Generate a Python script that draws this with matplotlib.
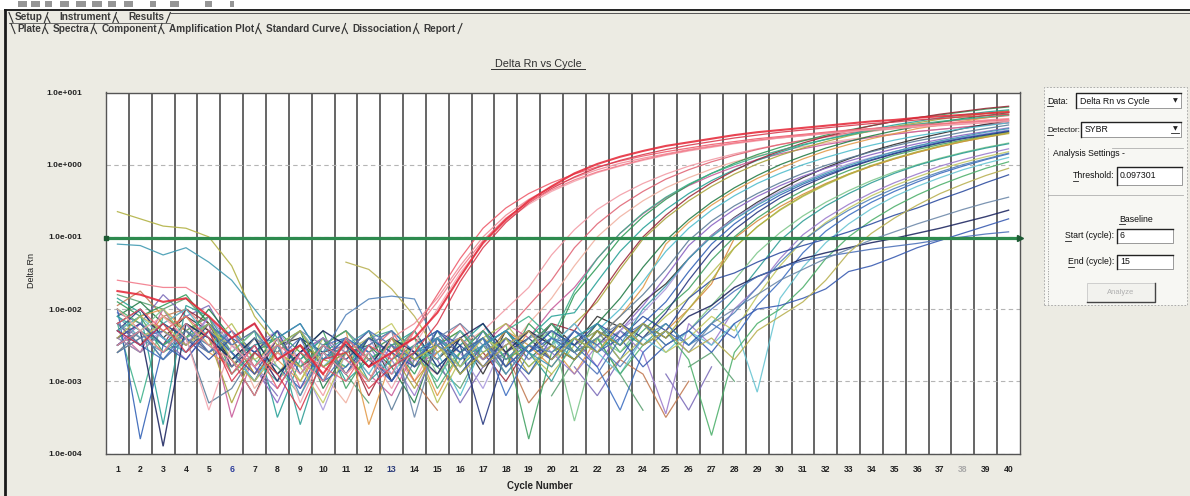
import numpy as np
import matplotlib
matplotlib.use('Agg')
import matplotlib.pyplot as plt
from matplotlib.lines import Line2D
from matplotlib.patches import Rectangle

plt.rcParams['font.family'] = ['Liberation Sans', 'DejaVu Sans']

nan = float('nan')
cycles = list(range(1, 41))
threshold = 0.097301
y_ticks = [1e-4, 1e-3, 1e-2, 1e-1, 1e0, 1e1]
y_tick_labels = ['1.0e-004', '1.0e-003', '1.0e-002', '1.0e-001', '1.0e+000', '1.0e+001']
x_tick_labels = [str(c) for c in cycles]
tabs_row1 = ['Setup', 'Instrument', 'Results']
tabs_row2 = ['Plate', 'Spectra', 'Component', 'Amplification Plot',
             'Standard Curve', 'Dissociation', 'Report']

# log10(Delta Rn) per well, cycles 1..40
red_1 = [-1.75, -1.8, -1.9, -1.85, -2.1, -2.4, -2.2, -2.7, -2.5, -2.9,
         -2.45, -2.8, -2.6, -2.4, -2.05, -1.55, -1.08, -0.76, -0.5, -0.3,
         -0.12, 0.01, 0.11, 0.19, 0.26, 0.31, 0.36, 0.41, 0.45, 0.48,
         0.51, 0.54, 0.57, 0.6, 0.62, 0.65, 0.67, 0.69, 0.71, 0.73]
red_2 = [-2.2, -2.0, -2.3, -2.1, -2.4, -2.9, -2.5, -3.1, -2.6, -2.8,
         -3.0, -2.5, -2.7, -2.3, -1.8, -1.3, -0.88, -0.6, -0.4, -0.25,
         -0.13, -0.03, 0.05, 0.12, 0.18, 0.23, 0.28, 0.32, 0.36, 0.39,
         0.42, 0.45, 0.48, 0.5, 0.52, 0.54, 0.56, 0.58, 0.6, 0.62]
red_3 = [-2.5, -2.3, -2.6, -2.2, -2.5, -2.7, -3.2, -2.6, -2.9, -2.5,
         -2.7, -3.0, -2.4, -2.2, -1.85, -1.4, -1.0, -0.7, -0.48, -0.31,
         -0.18, -0.07, 0.02, 0.09, 0.15, 0.21, 0.26, 0.3, 0.34, 0.37,
         0.4, 0.43, 0.46, 0.48, 0.5, 0.52, 0.54, 0.56, 0.58, 0.6]
red_4 = [-2.0, -2.3, -2.1, -2.4, -3.4, -2.5, -2.8, -2.4, -3.3, -2.6,
         -2.9, -2.6, -3.1, -2.5, -2.0, -1.5, -1.1, -0.78, -0.55, -0.37,
         -0.23, -0.11, -0.02, 0.06, 0.13, 0.19, 0.24, 0.29, 0.33, 0.37,
         0.4, 0.43, 0.46, 0.49, 0.51, 0.53, 0.55, 0.57, 0.59, 0.61]
red_5 = [-2.3, -2.5, -2.2, -2.6, -2.3, -3.0, -2.6, -2.9, -3.4, -2.7,
         -2.6, -3.1, -2.8, -2.6, -2.2, -1.62, -1.15, -0.8, -0.53, -0.33,
         -0.17, -0.04, 0.06, 0.14, 0.21, 0.27, 0.32, 0.37, 0.41, 0.45,
         0.48, 0.51, 0.54, 0.57, 0.59, 0.62, 0.64, 0.66, 0.68, 0.7]
red_6 = [-1.6, -1.65, -1.7, -1.7, -1.9, -2.3, -2.8, -2.5, -2.7, -3.0,
         -2.4, -2.7, -2.9, -2.3, -1.9, -1.45, -1.05, -0.74, -0.52, -0.35,
         -0.21, -0.1, -0.01, 0.07, 0.14, 0.2, 0.25, 0.3, 0.34, 0.38,
         0.41, 0.44, 0.47, 0.5, 0.52, 0.55, 0.57, 0.59, 0.61, 0.63]
pink_1 = [-2.1, -2.4, -2.2, -2.0, -2.3, -2.6, -2.9, -2.4, -2.7, -3.2,
          -2.5, -2.8, -2.6, -3.0, -2.4, -2.6, -2.3, -2.0, -1.7, -1.25,
          -0.9, -0.62, -0.42, -0.26, -0.13, -0.02, 0.07, 0.15, 0.22, 0.28,
          0.33, 0.38, 0.42, 0.46, 0.5, 0.53, 0.56, 0.59, 0.62, 0.64]
pink_2 = [-2.4, -2.2, -2.5, -2.3, -2.1, -2.8, -2.5, -3.0, -2.6, -2.4,
          -2.9, -2.6, -2.3, -2.8, -2.5, -2.2, -2.7, -2.3, -1.95, -1.6,
          -1.15, -0.82, -0.57, -0.37, -0.2, -0.07, 0.04, 0.13, 0.21, 0.28,
          0.34, 0.39, 0.44, 0.48, 0.52, 0.56, 0.59, 0.62, 0.65, 0.68]
pink_3 = [-2.6, -2.3, -2.1, -2.4, -2.6, -2.4, -3.1, -2.7, -2.5, -2.9,
          -3.3, -2.6, -2.4, -2.7, -2.9, -2.5, -2.3, -2.6, -2.2, -1.85,
          -1.4, -1.0, -0.72, -0.5, -0.32, -0.18, -0.06, 0.04, 0.12, 0.19,
          0.25, 0.3, 0.35, 0.39, 0.43, 0.46, 0.49, 0.52, 0.55, 0.58]
pink_4 = [-2.3, -2.6, -2.0, -2.5, -2.2, -3.5, -2.6, -2.3, -3.1, -2.7,
          -2.5, -2.9, -3.2, -2.6, -2.4, -2.9, -2.5, -2.2, -2.4, -2.0,
          -1.7, -1.3, -0.95, -0.68, -0.46, -0.29, -0.15, -0.03, 0.07, 0.15,
          0.22, 0.28, 0.33, 0.38, 0.42, 0.46, 0.49, 0.52, 0.55, 0.58]
green_1 = [-1.9, -2.1, -1.95, -1.8, -2.2, -2.5, -2.8, -2.3, -2.6, -3.0,
           -2.4, -2.7, -2.5, -2.9, -2.3, -2.6, -2.4, -2.8, -2.2, -2.5,
           -1.8, -1.42, -1.02, -0.72, -0.48, -0.28, -0.12, 0.02, 0.14, 0.24,
           0.33, 0.41, 0.48, 0.54, 0.6, 0.65, 0.69, 0.73, 0.77, 0.8]
black_1 = [-2.2, -2.0, -2.4, -2.1, -2.3, -2.7, -3.2, -2.5, -2.4, -2.8,
           -2.6, -2.3, -3.0, -2.5, -2.7, -2.4, -2.9, -2.3, -2.6, -2.2,
           -2.5, -2.1, -2.25, -1.9, -1.65, -1.3, -0.98, -0.73, -0.52, -0.34,
           -0.18, -0.04, 0.08, 0.19, 0.28, 0.36, 0.43, 0.5, 0.56, 0.61]
olive_1 = [-2.0, -2.3, -2.6, -2.2, -2.4, -3.3, -2.6, -2.9, -2.5, -2.7,
           -2.8, -2.4, -2.6, -3.1, -2.5, -2.3, -2.7, -2.4, -2.9, -2.5,
           -2.2, -1.9, -1.45, -1.03, -0.74, -0.5, -0.3, -0.13, 0.01, 0.13,
           0.23, 0.32, 0.4, 0.47, 0.53, 0.58, 0.63, 0.67, 0.71, 0.75]
teal_1 = [-1.85, -2.05, -3.6, -1.95, -2.1, -2.6, -2.3, -3.5, -2.7, -2.4,
          -3.0, -2.7, -2.5, -2.3, -2.8, -2.5, -2.2, -2.7, -2.4, -2.1,
          -2.05, -1.62, -1.2, -0.88, -0.62, -0.4, -0.22, -0.07, 0.06, 0.17,
          0.27, 0.35, 0.42, 0.49, 0.55, 0.6, 0.65, 0.69, 0.73, 0.76]
dkgreen_1 = [-2.1, -1.9, -2.2, -2.4, -2.0, -2.4, -2.9, -2.6, -2.3, -3.1,
             -2.6, -2.5, -2.8, -3.3, -2.4, -2.9, -2.5, -2.3, -2.7, -2.4,
             -2.6, -2.2, -1.85, -1.42, -1.05, -0.76, -0.52, -0.32, -0.15, 0.0,
             0.12, 0.23, 0.32, 0.4, 0.47, 0.53, 0.59, 0.64, 0.68, 0.72]
orange_1 = [-2.3, -2.1, -2.0, -2.3, -2.6, -2.8, -2.4, -2.7, -3.0, -2.5,
            -2.3, -3.6, -2.7, -2.5, -3.2, -2.6, -2.4, -2.8, -2.3, -2.5,
            -2.9, -2.4, -2.1, -1.7, -1.1, -0.8, -0.56, -0.36, -0.19, -0.05,
            0.08, 0.19, 0.28, 0.36, 0.43, 0.5, 0.55, 0.6, 0.65, 0.69]
maroon_1 = [-2.4, -2.2, -2.5, -2.0, -2.2, -2.6, -3.0, -2.4, -2.8, -2.6,
            -2.5, -3.2, -2.6, -2.4, -2.7, -2.3, -2.6, -3.0, -2.5, -2.2,
            -2.3, -1.85, -1.4, -1.0, -0.7, -0.45, -0.25, -0.08, 0.07, 0.19,
            0.3, 0.39, 0.47, 0.54, 0.6, 0.65, 0.7, 0.74, 0.78, 0.81]
tealgreen_1 = [-2.2, -3.3, -2.1, -2.3, -2.5, -2.3, -2.7, -3.0, -2.4, -2.6,
               -2.8, -2.4, -2.3, -2.6, -3.0, -2.4, -2.7, -2.3, -2.1, -2.4,
               -1.75, -1.3, -0.95, -0.67, -0.45, -0.27, -0.12, 0.0, 0.11, 0.2,
               0.28, 0.35, 0.41, 0.47, 0.52, 0.56, 0.6, 0.63, 0.66, 0.69]
purple_1 = [-2.5, -2.2, -2.4, -2.7, -2.3, -2.5, -2.8, -3.3, -2.6, -2.4,
            -2.7, -3.0, -2.5, -2.8, -2.6, -2.4, -2.8, -2.5, -2.3, -2.7,
            -2.4, -2.8, -2.3, -1.95, -1.55, -1.12, -0.84, -0.62, -0.44, -0.29,
            -0.16, -0.05, 0.05, 0.14, 0.22, 0.29, 0.35, 0.41, 0.46, 0.51]
lavender_1 = [-2.2, -2.5, -2.3, -2.6, -2.1, -2.9, -2.5, -2.3, -2.7, -3.4,
              -2.6, -2.4, -2.9, -2.7, -2.3, -2.6, -3.1, -2.4, -2.7, -2.5,
              -2.2, -2.6, -2.3, -2.05, -1.72, -1.3, -0.98, -0.74, -0.54, -0.37,
              -0.23, -0.1, 0.01, 0.1, 0.18, 0.26, 0.32, 0.38, 0.43, 0.48]
blue_1 = [-2.0, -3.8, -2.5, -2.2, -2.6, -2.3, -2.6, -2.8, -3.1, -2.5,
          -2.4, -2.7, -3.0, -2.6, -2.5, -2.8, -2.3, -2.6, -2.9, -2.4,
          -2.5, -2.3, -2.7, -2.2, -1.9, -1.48, -1.1, -0.82, -0.6, -0.42,
          -0.27, -0.14, -0.03, 0.07, 0.16, 0.24, 0.31, 0.37, 0.42, 0.47]
cyan_1 = [-2.1, -2.4, -2.2, -2.0, -2.4, -2.6, -3.0, -2.5, -2.3, -2.8,
          -2.5, -2.9, -2.4, -2.7, -2.6, -3.2, -2.5, -2.3, -2.6, -2.4,
          -2.7, -2.3, -2.0, -1.62, -1.2, -0.88, -0.63, -0.43, -0.26, -0.12,
          0.0, 0.1, 0.19, 0.27, 0.34, 0.4, 0.45, 0.5, 0.54, 0.58]
green_2 = [-2.3, -2.1, -2.6, -2.4, -2.2, -2.7, -2.4, -2.9, -2.6, -2.3,
           -3.1, -2.6, -2.4, -2.8, -2.5, -2.3, -2.7, -2.5, -3.8, -2.6,
           -2.4, -2.2, -2.6, -2.3, -2.0, -1.72, -1.32, -1.0, -0.74, -0.53,
           -0.36, -0.21, -0.08, 0.03, 0.13, 0.21, 0.28, 0.34, 0.4, 0.45]
ygreen_1 = [-2.4, -2.6, -2.3, -2.1, -2.5, -2.2, -2.7, -2.5, -3.0, -2.4,
            -2.6, -2.3, -2.8, -2.5, -3.3, -2.7, -2.4, -2.2, -2.6, -2.9,
            -2.5, -2.3, -2.7, -2.4, -2.1, -1.85, -1.5, -1.15, -0.86, -0.63,
            -0.44, -0.28, -0.14, -0.02, 0.08, 0.17, 0.25, 0.32, 0.38, 0.43]
slate_1 = [-2.6, -2.3, -2.7, -2.4, -3.3, -3.1, -2.6, -2.4, -2.8, -2.5,
           -2.3, -2.6, -3.4, -2.7, -2.4, -2.6, -2.3, -2.8, -2.5, -2.2,
           -2.6, -2.4, -2.1, -1.8, -1.45, -1.05, -0.78, -0.57, -0.4, -0.25,
           -0.12, -0.01, 0.09, 0.18, 0.26, 0.33, 0.39, 0.45, 0.5, 0.55]
orange_2 = [-2.2, -2.5, -2.1, -2.3, -2.6, -2.4, -2.9, -2.6, -2.3, -2.7,
            -2.5, -2.8, -2.4, -3.0, -2.6, -2.4, -2.7, -2.3, -2.5, -2.8,
            -2.4, -2.6, -2.2, -2.5, -2.3, -2.0, -1.65, -1.02, -0.78, -0.58,
            -0.41, -0.26, -0.13, -0.02, 0.08, 0.17, 0.25, 0.32, 0.38, 0.44]
navy_1 = [-2.3, -2.0, -2.4, -2.6, -2.2, -2.8, -2.5, -3.0, -2.4, -2.6,
          -2.9, -2.4, -2.6, -2.3, -2.8, -2.5, -3.6, -2.6, -2.4, -2.7,
          -2.3, -2.5, -2.2, -2.4, -2.05, -1.6, -1.2, -0.9, -0.66, -0.46,
          -0.3, -0.16, -0.04, 0.06, 0.15, 0.23, 0.3, 0.36, 0.41, 0.46]
ltgreen_1 = [-2.5, -2.3, -2.0, -2.4, -2.2, -2.6, -2.3, -2.8, -3.2, -2.5,
             -2.7, -2.4, -2.6, -2.3, -2.9, -2.6, -2.4, -2.9, -2.5, -2.3,
             -3.55, -2.4, -2.6, -2.2, -2.5, -2.3, -1.95, -1.6, -1.22, -0.94,
             -0.71, -0.52, -0.36, -0.22, -0.1, 0.0, 0.09, 0.17, 0.24, 0.3]
teal_2 = [-2.1, -2.3, -2.5, -2.2, -2.4, -2.7, -2.5, -2.4, -3.6, -2.6,
          -2.4, -3.0, -2.7, -2.5, -2.3, -2.8, -2.5, -2.3, -2.6, -3.0,
          -2.4, -2.6, -2.3, -2.5, -2.2, -2.5, -2.2, -1.85, -1.45, -1.05,
          -0.78, -0.57, -0.4, -0.25, -0.12, -0.01, 0.08, 0.16, 0.23, 0.29]
purple_2 = [-2.4, -2.6, -2.3, -2.5, -2.1, -2.5, -2.8, -3.1, -2.6, -2.4,
            -2.6, -2.3, -2.7, -3.2, -2.5, -2.4, -2.7, -2.5, -2.3, -2.6,
            -2.9, -2.5, -2.3, -2.6, -3.45, -2.2, -2.5, -2.0, -1.7, -1.3,
            -0.97, -0.74, -0.55, -0.39, -0.25, -0.13, -0.02, 0.07, 0.15, 0.22]
blue_2 = [-2.2, -2.5, -2.7, -2.3, -2.6, -2.4, -2.2, -2.7, -2.5, -3.0,
          -2.8, -2.5, -2.3, -2.6, -2.4, -2.7, -2.4, -3.2, -2.6, -2.3,
          -2.5, -2.8, -3.4, -2.6, -2.3, -2.5, -2.2, -2.4, -1.95, -1.62,
          -1.22, -0.92, -0.7, -0.52, -0.37, -0.24, -0.12, -0.02, 0.07, 0.15]
cyan_2 = [-2.3, -2.1, -2.4, -2.6, -2.3, -2.6, -3.0, -2.5, -2.3, -2.7,
          -2.4, -2.6, -2.9, -2.5, -2.7, -2.3, -2.6, -2.4, -2.8, -2.5,
          -2.2, -2.6, -2.9, -2.4, -2.6, -2.3, -2.5, -2.2, -3.15, -1.85,
          -1.42, -1.08, -0.82, -0.61, -0.44, -0.3, -0.18, -0.07, 0.02, 0.1]
green_3 = [-2.0, -2.2, -2.5, -2.3, -2.1, -2.9, -2.6, -2.4, -2.8, -2.5,
           -2.3, -2.7, -2.5, -2.4, -3.1, -2.6, -2.3, -2.7, -2.5, -2.2,
           -2.6, -2.4, -2.9, -2.5, -2.3, -2.7, -3.75, -2.6, -2.2, -2.0,
           -1.7, -1.3, -1.0, -0.77, -0.58, -0.42, -0.28, -0.16, -0.05, 0.04]
ygreen_2 = [-2.6, -2.4, -2.2, -2.5, -2.3, -2.5, -2.3, -2.6, -2.8, -3.3,
            -2.6, -2.4, -2.2, -2.7, -2.5, -2.8, -2.4, -2.6, -2.3, -2.5,
            -2.7, -2.3, -2.5, -2.2, -2.6, -2.4, -2.1, -2.3, -1.82, -1.4,
            -1.05, -0.8, -0.6, -0.43, -0.29, -0.17, -0.06, 0.03, 0.11, 0.18]
dkblue_1 = [-2.3, -2.5, -2.2, -2.4, -2.7, -2.4, -2.6, -2.3, -2.9, -2.5,
            -2.7, -2.4, -2.6, -2.8, -2.3, -2.5, -2.8, -2.4, -2.6, -2.3,
            -2.5, -2.2, -2.4, -2.1, -2.3, -1.85, -1.6, -1.5, -1.35, -1.22,
            -1.12, -1.03, -0.93, -0.82, -0.7, -0.6, -0.48, -0.37, -0.25, -0.14]
navy_2 = [-2.5, -2.3, -3.9, -2.2, -2.4, -2.7, -2.4, -2.9, -2.6, -2.3,
          -2.5, -2.8, -2.4, -2.6, -2.9, -2.4, -2.2, -2.6, -2.3, -2.5,
          -2.7, -2.3, -2.5, -2.2, -2.4, -2.1, -1.95, -1.7, -1.55, -1.43,
          -1.3, -1.22, -1.15, -1.08, -1.02, -0.95, -0.88, -0.8, -0.72, -0.63]
blue_3 = [-2.4, -2.2, -2.5, -2.7, -2.3, -2.6, -2.9, -2.4, -2.2, -2.7,
          -2.4, -2.6, -3.0, -2.5, -2.3, -2.6, -2.4, -2.8, -2.5, -2.7,
          -2.3, -2.6, -2.4, -2.8, -2.5, -2.3, -2.6, -2.2, -2.0, -1.95,
          -1.85, -1.72, -1.48, -1.4, -1.28, -1.15, -1.05, -0.95, -0.85, -0.75]
blue_4 = [-2.6, -2.4, -2.3, -2.5, -2.2, -2.5, -2.3, -2.7, -2.4, -3.0,
          -2.6, -2.3, -2.5, -2.7, -2.4, -2.9, -2.5, -2.3, -2.6, -2.4,
          -2.6, -2.9, -2.4, -2.2, -2.5, -2.3, -2.0, -1.75, -1.55, -1.42,
          -1.33, -1.27, -1.22, -1.17, -1.13, -1.09, -1.04, -1.0, -0.96, -0.93]
slate_2 = [-2.2, -2.4, -2.6, -2.3, -2.5, -2.8, -2.4, -2.6, -2.3, -2.5,
           -2.9, -2.5, -2.3, -3.5, -2.4, -2.2, -2.5, -2.7, -2.4, -2.3,
           -2.6, -2.4, -2.2, -2.5, -2.3, -2.6, -2.2, -2.0, -1.8, -1.6,
           -1.45, -1.3, -1.17, -1.04, -0.93, -0.82, -0.72, -0.62, -0.53, -0.45]
olive_early = [-0.65, -0.75, -0.85, -0.88, -1.0, -1.4, -2.1, -2.5, -2.3, -2.8,
               -2.6, -3.0, -2.4, -2.7, -2.5, -2.9, -2.6, -2.4, -2.8, -2.5,
               -2.7, -2.3, -2.5, -2.2, -2.4, -2.0, -1.6, -1.15, -0.86, -0.62,
               -0.43, -0.27, -0.13, -0.01, 0.09, 0.18, 0.26, 0.33, 0.39, 0.44]
teal_early = [-1.1, -1.12, -1.25, -1.15, -1.35, -1.6, -2.0, -2.4, -2.2, -2.7,
              -2.5, -2.3, -2.8, -2.6, -2.4, -2.7, -2.5, -2.3, -2.6, -2.8,
              -2.4, -2.2, -2.5, -2.0, -1.68, -1.3, -1.0, -0.76, -0.56, -0.39,
              -0.25, -0.12, -0.01, 0.09, 0.18, 0.26, 0.33, 0.39, 0.45, 0.5]
olive_mid = [-2.4, -2.1, -2.3, -2.5, -2.2, -2.7, -3.0, -2.6, -2.8, nan,
             -1.35, -1.45, -1.72, -2.1, -2.6, -2.4, -2.8, -2.5, -2.3, -2.7,
             -2.4, -2.6, -2.2, -2.5, -2.3, -2.6, -2.4, -2.7, -2.3, -2.1,
             -1.9, -1.6, -1.22, -0.95, -0.74, -0.56, -0.4, -0.27, -0.15, -0.05]
blue_mid = [-2.5, -2.3, -2.7, -2.4, -2.6, -2.3, -2.8, -2.5, -3.2, -2.6,
            -2.08, -1.86, -1.82, -1.86, -2.5, -2.7, -2.4, -2.9, -2.5, -2.6,
            -2.3, -2.5, -2.8, -2.4, -2.2, -2.5, -2.3, -2.05, -1.7, -1.35,
            -1.05, -0.82, -0.63, -0.47, -0.33, -0.21, -0.1, 0.0, 0.08, 0.16]
noise_1 = [-1.8, -1.9, -2.0, -1.85, -2.2, -2.6, -3.0, nan, -2.7, -2.4,
           -2.9, -3.3, nan, -2.6, -2.8, -3.1, -2.5, -2.9, nan, -3.2,
           -2.7, -2.4, -2.9, -3.4, nan, -2.8, -2.6, -3.0, nan, nan]
noise_2 = [-1.95, -1.75, -2.1, -2.0, -2.3, -2.9, nan, -3.1, -2.6, -2.9,
           nan, -2.7, -2.5, -3.0, -3.4, nan, -2.8, -2.6, -3.3, -2.9,
           nan, -3.0, -2.7, -2.9, -3.5, -3.0, nan, nan, nan, nan]
noise_3 = [-2.05, -2.2, -1.8, -2.1, -1.95, -2.5, -2.8, -3.2, nan, -2.6,
           -2.9, -2.5, -3.0, nan, -2.7, -3.3, -2.8, -2.6, -3.0, nan,
           -2.8, -3.2, -2.7, nan, -2.9, -3.4, -2.8, nan, nan, nan]

wells = [
    (noise_1, '#5aa070', 0.9), (noise_2, '#c07850', 0.9), (noise_3, '#7a6ab8', 0.9),
    (pink_1, '#f29aa4', 0.9), (pink_2, '#e06474', 0.9), (pink_3, '#f0b0a0', 0.9),
    (pink_4, '#c85a9a', 0.9), (green_1, '#2e9a56', 0.9), (black_1, '#2a2a2a', 0.9),
    (olive_1, '#a9a33a', 0.9), (teal_1, '#25a096', 0.9), (dkgreen_1, '#1f7a44', 0.9),
    (orange_1, '#e39a48', 0.9), (maroon_1, '#9a2838', 0.9), (tealgreen_1, '#3bb08a', 0.9),
    (purple_1, '#8862c2', 0.9), (lavender_1, '#a897dc', 0.9), (blue_1, '#2f5fb5', 0.9),
    (cyan_1, '#4fbccc', 0.9), (green_2, '#3fa060', 0.9), (ygreen_1, '#b4bf52', 0.9),
    (slate_1, '#5a7b98', 0.9), (orange_2, '#d88a3a', 0.9), (navy_1, '#24357e', 0.9),
    (ltgreen_1, '#7cc68a', 0.9), (teal_2, '#2c9c94', 0.9), (purple_2, '#9a7acc', 0.9),
    (blue_2, '#3a6cc0', 0.9), (cyan_2, '#66c4d2', 0.9), (green_3, '#4caf6a', 0.9),
    (ygreen_2, '#c2c860', 0.9), (dkblue_1, '#2a4a9e', 0.9), (navy_2, '#1c2560', 1.0),
    (blue_3, '#3558b0', 0.9), (blue_4, '#4a6fb8', 0.9), (slate_2, '#6a86a8', 0.9),
    (olive_early, '#b0b040', 0.9), (teal_early, '#3c98b0', 0.9),
    (olive_mid, '#b8b050', 0.9), (blue_mid, '#5080b8', 0.9),
    (red_2, '#ee5a6a', 0.9), (red_3, '#f08a96', 0.9), (red_4, '#f4a4ae', 0.9),
    (red_5, '#d8364a', 0.9), (red_6, '#f27888', 0.9), (red_1, '#e52a3a', 1.5),
]

W, H = 1190, 496
BG = '#ecebe3'


def fx(x):
    return x / W


def fy(y):
    return 1 - y / H


fig = plt.figure(figsize=(W / 100, H / 100), dpi=100)
fig.patch.set_facecolor(BG)
renderer = fig.canvas.get_renderer()


def fline(xs, ys, **kw):
    fig.add_artist(Line2D([fx(v) for v in xs], [fy(v) for v in ys],
                          transform=fig.transFigure, **kw))


def text_width(s, **kw):
    probe = fig.text(0, 0, s, **kw)
    w = probe.get_window_extent(renderer).width
    probe.remove()
    return w


def underline_first(t, y_off=4.5):
    """Underline the first character of a figure text (Windows accelerator key)."""
    bb = t.get_window_extent(renderer)
    w = text_width(t.get_text()[0], fontsize=t.get_fontsize(), fontweight=t.get_fontweight())
    y = H - (bb.y0 + bb.y1) / 2 + y_off
    fline([bb.x0, bb.x0 + w], [y, y], color='#222222', lw=0.6)


def tab_row(labels, x0, yc, gap, fs):
    y_top, y_bot = yc - 5, yc + 5
    kw = dict(fontsize=fs, fontweight='bold', color='#3a3a3a')
    fline([x0, x0 + 4], [y_top, y_bot], color='#333333', lw=0.8)
    x = x0 + 6
    for i, lab in enumerate(labels):
        fig.text(fx(x), fy(yc), lab, ha='left', va='center', **kw)
        x += text_width(lab, **kw)
        if i < len(labels) - 1:
            fline([x + 1.5, x + 5], [y_bot, y_top], color='#333333', lw=0.8)
            fline([x + 4, x + 7], [yc - 1, y_bot], color='#333333', lw=0.8)
            x += gap
        else:
            fline([x + 2, x + 6], [y_bot, y_top], color='#333333', lw=0.8)
    return x + 6


# ---- window chrome ----
fig.add_artist(Rectangle((0, fy(9.5)), 1, 9.5 / H, transform=fig.transFigure,
                         facecolor='white', edgecolor='none'))
for x0, w in [(18, 9), (31, 9), (45, 7), (60, 9), (76, 10), (92, 10), (108, 8),
              (124, 9), (150, 6), (170, 9), (205, 7), (230, 4)]:
    fig.add_artist(Rectangle((fx(x0), fy(7)), w / W, 6 / H, transform=fig.transFigure,
                             facecolor='#6a6a6a', edgecolor='none', alpha=0.7))
fline([5, W], [10, 10], color='#222222', lw=1.4)
fline([5, 5], [10, H], color='#1a1a1a', lw=2.0)

# tabs
end1 = tab_row(tabs_row1, 9, 17.5, 17, 7.2)
fline([end1, W], [13, 13], color='#555555', lw=0.7)
fline([9, end1], [23, 23], color='#555555', lw=0.6)
tab_row(tabs_row2, 11, 28.5, 12, 7.2)

# title
fig.text(fx(538), fy(64), 'Delta Rn vs Cycle', ha='center', va='center', fontsize=7.8, color='#303030')
fline([491, 585], [69, 69], color='#303030', lw=0.7)

# ---- plot ----
top_px, bot_px, left_px, right_px = 92.5, 453.5, 106, 1020
ax = fig.add_axes([fx(left_px), fy(bot_px), (right_px - left_px) / W, (bot_px - top_px) / H])
ax.set_facecolor('white')
ax.set_yscale('log')
ax.set_xlim(0.5, 40.5)
ax.set_ylim(1e-4, 1e1)

ax.set_xticks(np.arange(1.5, 40, 1), minor=True)
ax.grid(which='minor', axis='x', color='#3c3c3c', lw=1.1)
ax.set_yticks(y_ticks)
ax.set_yticklabels(y_tick_labels)
ax.yaxis.set_minor_locator(matplotlib.ticker.NullLocator())
ax.grid(which='major', axis='y', color='#b5b5b5', lw=0.8, ls=(0, (4, 3)))
ax.set_axisbelow(True)
ax.set_xticks(cycles)
ax.set_xticklabels(x_tick_labels)
ax.tick_params(axis='both', which='both', length=0)
ax.tick_params(axis='x', pad=8, labelsize=6.2, labelcolor='#222222')
ax.tick_params(axis='y', pad=17, labelsize=6.0, labelcolor='#222222')
for t in ax.get_xticklabels() + ax.get_yticklabels():
    t.set_fontweight('bold')
ax.get_xticklabels()[5].set_color('#2a3a9a')
ax.get_xticklabels()[12].set_color('#2a3a7a')
ax.get_xticklabels()[37].set_color('#a8a8a8')
for s in ax.spines.values():
    s.set_color('#555555')
    s.set_linewidth(1.0)

for vals, col, lw in wells:
    n = len(vals)
    ax.plot(cycles[:n], 10 ** np.array(vals, dtype=float), color=col, lw=lw, alpha=0.88,
            solid_joinstyle='miter')

ax.axhline(threshold, color='#2d8a4e', lw=2.3, zorder=5)
ax.plot([0.5], [threshold], marker='s', ms=3, color='#1d5a33', clip_on=False, zorder=6)
ax.plot([40.5], [threshold], marker='>', ms=4, color='#1d5a33', clip_on=False, zorder=6)

fig.text(fx(31), fy(270), 'Delta Rn', rotation=90, ha='center', va='center',
         fontsize=6.5, color='#222222')
fig.text(fx(540), fy(486), 'Cycle Number', ha='center', va='center', fontsize=7.0,
         fontweight='bold', color='#222222')

# ---- right panel ----
fig.add_artist(Rectangle((fx(1044), fy(305)), (1187 - 1044) / W, (305 - 87) / H,
                         transform=fig.transFigure, facecolor='#f7f7f3',
                         edgecolor='#a0a0a0', lw=0.6, ls=(0, (2, 2))))


def box(x0, y0, x1, y1):
    fig.add_artist(Rectangle((fx(x0), fy(y1)), (x1 - x0) / W, (y1 - y0) / H,
                             transform=fig.transFigure, facecolor='white',
                             edgecolor='#8a8a8a', lw=0.6))
    fline([x0, x0, x1], [y1, y0, y0], color='#222222', lw=1.0)


PS = 6.3
t = fig.text(fx(1047), fy(101), 'Data:', ha='left', va='center', fontsize=PS, color='#111111')
underline_first(t)
box(1076, 93, 1181, 108)
fig.text(fx(1080), fy(101), 'Delta Rn vs Cycle', ha='left', va='center', fontsize=PS, color='#111111')
fig.text(fx(1175), fy(100.5), '\u25bc', ha='center', va='center', fontsize=4.5, color='#222222',
         family='DejaVu Sans')

t = fig.text(fx(1047), fy(130), 'Detector:', ha='left', va='center', fontsize=5.9, color='#111111')
underline_first(t)
box(1081, 122, 1181, 137)
fig.text(fx(1085), fy(130), 'SYBR', ha='left', va='center', fontsize=PS, color='#111111')
fig.text(fx(1175), fy(129), '\u25bc', ha='center', va='center', fontsize=4.5, color='#222222',
         family='DejaVu Sans')
fline([1171, 1179], [133, 133], color='#222222', lw=0.6)

fig.text(fx(1053), fy(153), 'Analysis Settings -', ha='left', va='center', fontsize=PS, color='#111111')
fline([1048, 1048], [148, 304], color='#9a9a9a', lw=0.6, ls=(0, (1.5, 1.5)))
fline([1112, 1183], [148, 148], color='#b0b0b0', lw=0.6)
fline([1048, 1183], [195, 195], color='#b0b0b0', lw=0.6)

t = fig.text(fx(1114), fy(176), 'Threshold:', ha='right', va='center', fontsize=PS, color='#111111')
underline_first(t)
box(1117, 167, 1182, 185)
fig.text(fx(1120), fy(176), '0.097301', ha='left', va='center', fontsize=PS, color='#111111')

t = fig.text(fx(1119), fy(219), 'Baseline', ha='left', va='center', fontsize=PS, color='#111111')
underline_first(t)

t = fig.text(fx(1114), fy(236), 'Start (cycle):', ha='right', va='center', fontsize=PS, color='#111111')
underline_first(t)
box(1117, 229, 1173, 243)
fig.text(fx(1120), fy(236), '6', ha='left', va='center', fontsize=PS, color='#111111')

t = fig.text(fx(1114), fy(262), 'End (cycle):', ha='right', va='center', fontsize=PS, color='#111111')
underline_first(t)
box(1117, 255, 1173, 269)
fig.text(fx(1120), fy(262), '15', ha='left', va='center', fontsize=PS, color='#111111')

fig.add_artist(Rectangle((fx(1087), fy(302)), (1155 - 1087) / W, (302 - 283) / H,
                         transform=fig.transFigure, facecolor='#f2f2ee',
                         edgecolor='#c8c8c8', lw=0.6))
fline([1087, 1155, 1155], [302, 302, 283], color='#444444', lw=1.0)
fig.text(fx(1121), fy(292), 'Analyze', ha='center', va='center', fontsize=5.5, color='#b0b0b0')

fig.savefig('out.png', dpi=100, facecolor=BG)
